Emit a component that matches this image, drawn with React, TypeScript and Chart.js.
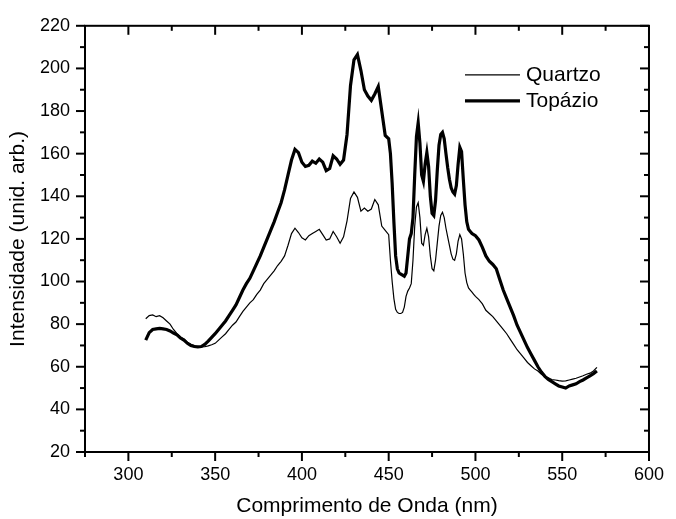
import React, { useEffect, useRef } from 'react';
import { Chart, registerables } from 'chart.js';

Chart.register(...registerables);

// Wavelength grid (nm)
const wavelengths = [
  310, 312, 314, 316, 318, 320, 322, 324, 326, 328,
  330, 332, 334, 336, 338, 340, 342, 344, 346, 348,
  350, 352, 354, 356, 358, 360, 362, 364, 366, 368,
  370, 372, 374, 376, 378, 380, 382, 384, 386, 388,
  390, 392, 394, 396, 398, 400, 402, 404, 406, 408,
  410, 412, 414, 416, 418, 420, 422, 424, 426, 428,
  430, 432, 434, 436, 438, 440, 442, 444, 446, 448,
  450, 451, 452, 453, 454, 455, 456, 457, 458, 459,
  460, 461, 462, 463, 464, 465, 466, 467, 468, 469,
  470, 471, 472, 473, 474, 475, 476, 477, 478, 479,
  480, 481, 482, 483, 484, 485, 486, 487, 488, 489,
  490, 491, 492, 493, 494, 495, 496, 497, 498, 499,
  500, 502, 504, 506, 508, 510, 512, 514, 516, 518,
  520, 522, 524, 526, 528, 530, 532, 534, 536, 538,
  540, 542, 544, 546, 548, 550, 552, 554, 556, 558,
  560, 562, 564, 566, 568, 570,
];

const quartzo = [
  82.5, 84, 84.3, 83.5, 84, 83, 81.5, 80, 77.5, 75.5,
  74, 73, 71.5, 70.5, 70, 69.5, 69.3, 69.4, 69.8, 70.3,
  71, 72.5, 74, 75.5, 77.5, 79.5, 81, 83.5, 86, 88,
  90, 91.5, 94, 96, 99, 101, 103, 105, 107.5, 109.5,
  112, 117, 122.5, 125, 123, 120.5, 119.5, 121.5, 122.5, 123.5,
  124.5, 122, 119.5, 120, 123.5, 121, 118, 121, 128.5, 139,
  142, 139.5, 133, 134.5, 133, 134, 138.5, 136, 126, 124,
  122, 110, 100, 92, 87, 85.5, 85, 85, 85.5, 88,
  93, 95.5, 97, 99, 110, 126, 135, 137, 130, 118,
  117, 122, 125, 121, 112, 106, 105, 110, 118, 126,
  131, 132.5, 130, 125, 121, 117, 113, 110.5, 110, 113,
  119, 122, 120, 113, 104, 99.5, 97, 96, 95, 94,
  93, 91.5, 89.5, 86.5, 85, 83.5, 81.5, 79.5, 77.5, 75.5,
  73, 70.5, 68, 66, 64, 62, 60.5, 59, 58, 56.5,
  55.5, 54.8, 54, 53.8, 53.5, 53.3, 53.4, 53.8, 54.2, 54.6,
  55.2, 55.8, 56.5, 57, 58, 59.7,
];

const topazio = [
  72.5, 76, 77.5, 77.8, 78, 77.8, 77.5, 76.8, 75.8, 75,
  73.5, 72.5, 71, 70, 69.5, 69.3, 69.5, 70.5, 72, 73.8,
  75.5, 77.5, 79.5, 81.5, 84, 86.5, 89, 92.5, 96, 99,
  101.5, 105, 108.5, 112, 116, 120, 124, 128, 132.5, 137,
  143, 150, 157, 162, 160.5, 156, 154, 154.5, 156.5, 155.5,
  157.5, 156, 152, 153, 159, 157.5, 155, 157, 169, 192,
  204, 206.5, 199, 190, 187, 185, 188, 191.5, 180, 168.5,
  167, 160, 146, 128, 112, 106, 104, 103.5, 103, 102.5,
  104, 112, 120, 122.5, 130, 150, 168, 174.5, 165, 150,
  147, 155, 160.5, 154, 140, 132, 131, 138, 152, 164,
  169, 170, 167, 160, 153.5, 148, 144, 142, 141, 145,
  155, 163, 161, 148, 136, 128, 124.5, 123.5, 122.5, 122,
  121.5, 119.5, 116, 112, 109.5, 108, 106, 101, 96, 92,
  88, 84, 79.5, 76, 72.5, 69, 66, 63, 60, 57.5,
  55.5, 54, 53, 52, 51, 50.5, 50, 51, 51.5, 52,
  53, 53.8, 54.8, 55.7, 56.8, 58,
];

const seriesLabels = ['Quartzo', 'Topázio'];
const xTitle = 'Comprimento de Onda (nm)';
const yTitle = 'Intensidade (unid. arb.)';

const xMin = 275;
const xMax = 600;
const yMin = 20;
const yMax = 220;
const xMajorTicks = [300, 350, 400, 450, 500, 550, 600];
const xMinorTicks = [275, 325, 375, 425, 475, 525, 575];
const yMajorTicks = [20, 40, 60, 80, 100, 120, 140, 160, 180, 200, 220];
const yMinorTicks = [30, 50, 70, 90, 110, 130, 150, 170, 190, 210];

const FONT = '"Liberation Sans", Arial, Helvetica, sans-serif';

const framePlugin = {
  id: 'frame',
  afterDraw(chart: any) {
    const { ctx, chartArea, scales } = chart;
    const { left, right, top, bottom } = chartArea;
    const xs = scales.x;
    const ys = scales.y;
    ctx.save();
    ctx.strokeStyle = '#000';
    ctx.lineWidth = 2;
    ctx.lineCap = 'butt';
    ctx.strokeRect(left, top, right - left, bottom - top);

    const seg = (x1: number, y1: number, x2: number, y2: number) => {
      ctx.beginPath();
      ctx.moveTo(x1, y1);
      ctx.lineTo(x2, y2);
      ctx.stroke();
    };
    const major = 9;
    const minor = 5;
    xMajorTicks.forEach((v) => {
      const px = xs.getPixelForValue(v);
      seg(px, bottom, px, bottom + major);
      seg(px, top, px, top + major);
    });
    xMinorTicks.forEach((v) => {
      const px = xs.getPixelForValue(v);
      seg(px, bottom, px, bottom + minor);
      seg(px, top, px, top + minor);
    });
    yMajorTicks.forEach((v) => {
      const py = ys.getPixelForValue(v);
      seg(left - major, py, left, py);
      seg(right - major, py, right, py);
    });
    yMinorTicks.forEach((v) => {
      const py = ys.getPixelForValue(v);
      seg(left - minor, py, left, py);
      seg(right - minor, py, right, py);
    });

    // legend
    const lx1 = right - 184;
    const lx2 = right - 129;
    const ly = [top + 49, top + 75];
    const widths = [1.2, 3.2];
    ctx.font = `21px ${FONT}`;
    ctx.fillStyle = '#000';
    ctx.textBaseline = 'middle';
    ctx.textAlign = 'left';
    seriesLabels.forEach((lab, i) => {
      ctx.lineWidth = widths[i];
      seg(lx1, ly[i], lx2, ly[i]);
      ctx.fillText(lab, lx2 + 6, ly[i]);
    });
    ctx.restore();
  },
};

export default function App() {
  const ref = useRef<HTMLCanvasElement | null>(null);
  useEffect(() => {
    if (!ref.current) return;
    Chart.defaults.font.family = FONT;
    Chart.defaults.color = '#000';
    const chart = new Chart(ref.current, {
      type: 'line',
      data: {
        datasets: [
          {
            label: seriesLabels[0],
            data: wavelengths.map((w, i) => ({ x: w, y: quartzo[i] })),
            borderColor: '#000',
            borderWidth: 1.2,
            pointRadius: 0,
            tension: 0,
            fill: false,
          },
          {
            label: seriesLabels[1],
            data: wavelengths.map((w, i) => ({ x: w, y: topazio[i] })),
            borderColor: '#000',
            borderWidth: 3.2,
            pointRadius: 0,
            tension: 0,
            fill: false,
          },
        ],
      },
      options: {
        animation: false,
        responsive: false,
        devicePixelRatio: 1,
        layout: { padding: { left: 0, right: 16, top: 19, bottom: 0 } },
        plugins: { legend: { display: false }, tooltip: { enabled: false } },
        scales: {
          x: {
            type: 'linear',
            min: xMin,
            max: xMax,
            grid: { display: false, drawTicks: false, tickLength: 0 },
            border: { display: false },
            afterBuildTicks: (s: any) => {
              s.ticks = xMajorTicks.map((v) => ({ value: v }));
            },
            afterFit: (s: any) => {
              s.height = 67;
            },
            ticks: {
              font: { size: 18, family: FONT },
              color: '#000',
              padding: 12,
              maxRotation: 0,
              autoSkip: false,
            },
            title: {
              display: true,
              text: xTitle,
              font: { size: 21, family: FONT },
              color: '#000',
              padding: { top: 0, bottom: 0 },
            },
          },
          y: {
            type: 'linear',
            min: yMin,
            max: yMax,
            grid: { display: false, drawTicks: false, tickLength: 0 },
            border: { display: false },
            afterBuildTicks: (s: any) => {
              s.ticks = yMajorTicks.map((v) => ({ value: v }));
            },
            afterFit: (s: any) => {
              s.width = 85;
            },
            ticks: {
              font: { size: 18, family: FONT },
              color: '#000',
              padding: 15,
              autoSkip: false,
            },
            title: {
              display: true,
              text: yTitle,
              font: { size: 21, family: FONT },
              color: '#000',
              padding: { top: 6, bottom: 0 },
            },
          },
        },
      },
      plugins: [framePlugin],
    });
    return () => chart.destroy();
  }, []);
  return (
    <div style={{ position: 'absolute', left: 0, top: 0, width: 676, height: 519, background: '#fff' }}>
      <canvas ref={ref} width={676} height={519} style={{ display: 'block' }} />
    </div>
  );
}
